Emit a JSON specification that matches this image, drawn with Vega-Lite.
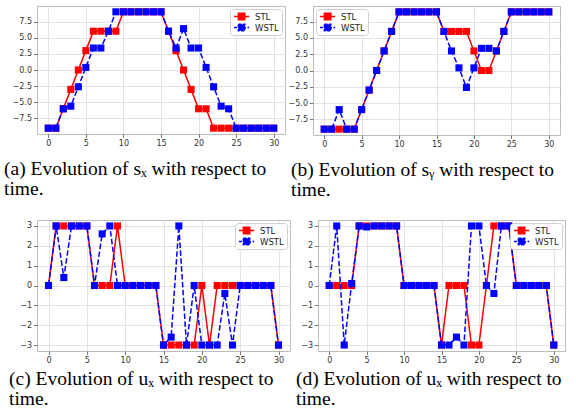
{
  "$schema": "https://vega.github.io/schema/vega-lite/v6.json",
  "padding": {"left": 3, "top": 5, "right": 0, "bottom": 0},
  "background": "white",
  "config": {
    "font": "DejaVu Sans",
    "view": {"stroke": "#bdbdbd", "strokeWidth": 1},
    "axis": {"grid": true, "gridColor": "#dcdcdc", "gridWidth": 0.8, "domain": false, "ticks": true, "tickColor": "#555", "tickSize": 3.5, "tickWidth": 0.8, "labelFont": "DejaVu Sans", "labelFontSize": 8, "labelColor": "#333", "labelPadding": 2, "title": null},
    "legend": {"title": null, "symbolType": "M-1,0H2.8M0.1,-0.8H1.7V0.8H0.1Z", "symbolSize": 64, "symbolStrokeWidth": 1.5, "labelFont": "DejaVu Sans", "labelFontSize": 8.5, "labelColor": "#222", "labelOffset": 12, "fillColor": "white", "strokeColor": "#d0d0d0", "cornerRadius": 3, "padding": 3, "rowPadding": 2, "clipHeight": 9, "offset": 3},
    "title": {"font": "Liberation Serif", "fontSize": 19.5, "fontWeight": "normal", "color": "#000", "lineHeight": 20, "orient": "bottom", "anchor": "start", "frame": "group", "offset": 12}
  },
  "datasets": {
    "a": [{"t":0,"STL":-9,"WSTL":-9},{"t":1,"STL":-9,"WSTL":-9},{"t":2,"STL":-6,"WSTL":-6},{"t":3,"STL":-3,"WSTL":-5.6},{"t":4,"STL":0,"WSTL":-2.6},{"t":5,"STL":3,"WSTL":0.4},{"t":6,"STL":6,"WSTL":3.4},{"t":7,"STL":6,"WSTL":3.4},{"t":8,"STL":6,"WSTL":6},{"t":9,"STL":6,"WSTL":9},{"t":10,"STL":9,"WSTL":9},{"t":11,"STL":9,"WSTL":9},{"t":12,"STL":9,"WSTL":9},{"t":13,"STL":9,"WSTL":9},{"t":14,"STL":9,"WSTL":9},{"t":15,"STL":9,"WSTL":9},{"t":16,"STL":6,"WSTL":6},{"t":17,"STL":3,"WSTL":3.4},{"t":18,"STL":0,"WSTL":6.4},{"t":19,"STL":-3,"WSTL":3.4},{"t":20,"STL":-6,"WSTL":3.4},{"t":21,"STL":-6,"WSTL":0.4},{"t":22,"STL":-9,"WSTL":-2.6},{"t":23,"STL":-9,"WSTL":-5.6},{"t":24,"STL":-9,"WSTL":-6},{"t":25,"STL":-9,"WSTL":-9},{"t":26,"STL":-9,"WSTL":-9},{"t":27,"STL":-9,"WSTL":-9},{"t":28,"STL":-9,"WSTL":-9},{"t":29,"STL":-9,"WSTL":-9},{"t":30,"STL":-9,"WSTL":-9}],
    "b": [{"t":0,"STL":-9,"WSTL":-9},{"t":1,"STL":-9,"WSTL":-9},{"t":2,"STL":-9,"WSTL":-6},{"t":3,"STL":-9,"WSTL":-9},{"t":4,"STL":-9,"WSTL":-9},{"t":5,"STL":-6,"WSTL":-6},{"t":6,"STL":-3,"WSTL":-3},{"t":7,"STL":0,"WSTL":0},{"t":8,"STL":3,"WSTL":3},{"t":9,"STL":6,"WSTL":6},{"t":10,"STL":9,"WSTL":9},{"t":11,"STL":9,"WSTL":9},{"t":12,"STL":9,"WSTL":9},{"t":13,"STL":9,"WSTL":9},{"t":14,"STL":9,"WSTL":9},{"t":15,"STL":9,"WSTL":9},{"t":16,"STL":6,"WSTL":6},{"t":17,"STL":6,"WSTL":3},{"t":18,"STL":6,"WSTL":0.4},{"t":19,"STL":6,"WSTL":-2.6},{"t":20,"STL":3,"WSTL":0.4},{"t":21,"STL":0,"WSTL":3.4},{"t":22,"STL":0,"WSTL":3.4},{"t":23,"STL":3,"WSTL":3},{"t":24,"STL":6,"WSTL":6},{"t":25,"STL":9,"WSTL":9},{"t":26,"STL":9,"WSTL":9},{"t":27,"STL":9,"WSTL":9},{"t":28,"STL":9,"WSTL":9},{"t":29,"STL":9,"WSTL":9},{"t":30,"STL":9,"WSTL":9}],
    "c": [{"t":0,"STL":0,"WSTL":0},{"t":1,"STL":3,"WSTL":3},{"t":2,"STL":3,"WSTL":0.4},{"t":3,"STL":3,"WSTL":3},{"t":4,"STL":3,"WSTL":3},{"t":5,"STL":3,"WSTL":3},{"t":6,"STL":0,"WSTL":0},{"t":7,"STL":0,"WSTL":2.6},{"t":8,"STL":0,"WSTL":3},{"t":9,"STL":3,"WSTL":0},{"t":10,"STL":0,"WSTL":0},{"t":11,"STL":0,"WSTL":0},{"t":12,"STL":0,"WSTL":0},{"t":13,"STL":0,"WSTL":0},{"t":14,"STL":0,"WSTL":0},{"t":15,"STL":-3,"WSTL":-3},{"t":16,"STL":-3,"WSTL":-2.6},{"t":17,"STL":-3,"WSTL":3},{"t":18,"STL":-3,"WSTL":-3},{"t":19,"STL":-3,"WSTL":0},{"t":20,"STL":0,"WSTL":-3},{"t":21,"STL":-3,"WSTL":-3},{"t":22,"STL":0,"WSTL":-3},{"t":23,"STL":0,"WSTL":-0.4},{"t":24,"STL":0,"WSTL":-3},{"t":25,"STL":0,"WSTL":0},{"t":26,"STL":0,"WSTL":0},{"t":27,"STL":0,"WSTL":0},{"t":28,"STL":0,"WSTL":0},{"t":29,"STL":0,"WSTL":0},{"t":30,"STL":-3,"WSTL":-3}],
    "d": [{"t":0,"STL":0,"WSTL":0},{"t":1,"STL":0,"WSTL":3},{"t":2,"STL":0,"WSTL":-3},{"t":3,"STL":0,"WSTL":0.1},{"t":4,"STL":3,"WSTL":3},{"t":5,"STL":3,"WSTL":2.95},{"t":6,"STL":3,"WSTL":3},{"t":7,"STL":3,"WSTL":3},{"t":8,"STL":3,"WSTL":3},{"t":9,"STL":3,"WSTL":3},{"t":10,"STL":0,"WSTL":0},{"t":11,"STL":0,"WSTL":0},{"t":12,"STL":0,"WSTL":0},{"t":13,"STL":0,"WSTL":0},{"t":14,"STL":0,"WSTL":0},{"t":15,"STL":-3,"WSTL":-3},{"t":16,"STL":0,"WSTL":-3},{"t":17,"STL":0,"WSTL":-2.6},{"t":18,"STL":0,"WSTL":-3},{"t":19,"STL":-3,"WSTL":3},{"t":20,"STL":-3,"WSTL":3},{"t":21,"STL":0,"WSTL":0},{"t":22,"STL":3,"WSTL":-0.4},{"t":23,"STL":3,"WSTL":3},{"t":24,"STL":3,"WSTL":3},{"t":25,"STL":0,"WSTL":0},{"t":26,"STL":0,"WSTL":0},{"t":27,"STL":0,"WSTL":0},{"t":28,"STL":0,"WSTL":0},{"t":29,"STL":0,"WSTL":0},{"t":30,"STL":-3,"WSTL":-3}]
  },
  "spacing": 19,
  "resolve": {"scale": {"color": "independent"}, "legend": {"color": "independent"}},
  "vconcat": [
    {
      "hconcat": [
        {
          "width": 248, "height": 128,
          "data": {"name": "a"},
          "transform": [{"fold": ["STL", "WSTL"], "as": ["series", "v"]}],
          "title": {"text": ["(a) Evolution of sₓ with respect to", "time."], "dx": -33},
          "encoding": {
            "x": {"field": "t", "type": "quantitative", "scale": {"domain": [-1.5, 31.5], "nice": false, "zero": false}, "axis": {"values": [0, 5, 10, 15, 20, 25, 30]}},
            "y": {"field": "v", "type": "quantitative", "scale": {"domain": [-9.9, 9.9], "nice": false, "zero": false}, "axis": {"values": [-7.5, -5, -2.5, 0, 2.5, 5, 7.5], "format": ".1f"}},
            "color": {"field": "series", "type": "nominal", "scale": {"domain": ["STL", "WSTL"], "range": ["#ff0000", "#0000ff"]}, "legend": {"orient": "top-right", "encode": {"symbols": {"update": {"size": {"value": 64}, "fill": {"signal": "datum.value === 'STL' ? '#ff0000' : '#0000ff'"}, "stroke": {"signal": "datum.value === 'STL' ? '#ff0000' : '#0000ff'"}, "strokeDash": {"signal": "datum.value === 'STL' ? [1,0] : [3,1.5]"}}}}}}
          },
          "layer": [
            {"transform": [{"filter": "datum.series === 'STL'"}], "mark": {"type": "line", "strokeWidth": 1.5}},
            {"transform": [{"filter": "datum.series === 'STL'"}], "mark": {"type": "square", "size": 50, "opacity": 1}},
            {"transform": [{"filter": "datum.series === 'WSTL'"}], "mark": {"type": "line", "strokeWidth": 1.5, "strokeDash": [5.5, 2.4]}},
            {"transform": [{"filter": "datum.series === 'WSTL'"}], "mark": {"type": "square", "size": 50, "opacity": 1}}
          ]
        },
        {
          "width": 247, "height": 129,
          "data": {"name": "b"},
          "transform": [{"fold": ["STL", "WSTL"], "as": ["series", "v"]}],
          "title": {"text": ["(b) Evolution of sᵧ with respect to", "time."], "dx": -22},
          "encoding": {
            "x": {"field": "t", "type": "quantitative", "scale": {"domain": [-1.5, 31.5], "nice": false, "zero": false}, "axis": {"values": [0, 5, 10, 15, 20, 25, 30]}},
            "y": {"field": "v", "type": "quantitative", "scale": {"domain": [-9.9, 9.9], "nice": false, "zero": false}, "axis": {"values": [-7.5, -5, -2.5, 0, 2.5, 5, 7.5], "format": ".1f"}},
            "color": {"field": "series", "type": "nominal", "scale": {"domain": ["STL", "WSTL"], "range": ["#ff0000", "#0000ff"]}, "legend": {"orient": "top-left", "encode": {"symbols": {"update": {"size": {"value": 64}, "fill": {"signal": "datum.value === 'STL' ? '#ff0000' : '#0000ff'"}, "stroke": {"signal": "datum.value === 'STL' ? '#ff0000' : '#0000ff'"}, "strokeDash": {"signal": "datum.value === 'STL' ? [1,0] : [3,1.5]"}}}}}}
          },
          "layer": [
            {"transform": [{"filter": "datum.series === 'STL'"}], "mark": {"type": "line", "strokeWidth": 1.5}},
            {"transform": [{"filter": "datum.series === 'STL'"}], "mark": {"type": "square", "size": 50, "opacity": 1}},
            {"transform": [{"filter": "datum.series === 'WSTL'"}], "mark": {"type": "line", "strokeWidth": 1.5, "strokeDash": [5.5, 2.4]}},
            {"transform": [{"filter": "datum.series === 'WSTL'"}], "mark": {"type": "square", "size": 50, "opacity": 1}}
          ]
        }
      ],
      "spacing": 28,
      "bounds": "flush",
      "resolve": {"scale": {"color": "independent"}, "legend": {"color": "independent"}}
    },
    {
      "hconcat": [
        {
          "width": 253, "height": 131,
          "data": {"name": "c"},
          "transform": [{"fold": ["STL", "WSTL"], "as": ["series", "v"]}],
          "title": {"text": ["(c) Evolution of uₓ with respect to", "time."], "dx": -28, "offset": 5},
          "encoding": {
            "x": {"field": "t", "type": "quantitative", "scale": {"domain": [-1.5, 31.5], "nice": false, "zero": false}, "axis": {"values": [0, 5, 10, 15, 20, 25, 30]}},
            "y": {"field": "v", "type": "quantitative", "scale": {"domain": [-3.3, 3.3], "nice": false, "zero": false}, "axis": {"values": [-3, -2, -1, 0, 1, 2, 3], "format": "d"}},
            "color": {"field": "series", "type": "nominal", "scale": {"domain": ["STL", "WSTL"], "range": ["#ff0000", "#0000ff"]}, "legend": {"orient": "top-right", "encode": {"symbols": {"update": {"size": {"value": 64}, "fill": {"signal": "datum.value === 'STL' ? '#ff0000' : '#0000ff'"}, "stroke": {"signal": "datum.value === 'STL' ? '#ff0000' : '#0000ff'"}, "strokeDash": {"signal": "datum.value === 'STL' ? [1,0] : [3,1.5]"}}}}}}
          },
          "layer": [
            {"transform": [{"filter": "datum.series === 'STL'"}], "mark": {"type": "line", "strokeWidth": 1.5}},
            {"transform": [{"filter": "datum.series === 'STL'"}], "mark": {"type": "square", "size": 50, "opacity": 1}},
            {"transform": [{"filter": "datum.series === 'WSTL'"}], "mark": {"type": "line", "strokeWidth": 1.5, "strokeDash": [5.5, 2.4]}},
            {"transform": [{"filter": "datum.series === 'WSTL'"}], "mark": {"type": "square", "size": 50, "opacity": 1}}
          ]
        },
        {
          "width": 247, "height": 131,
          "data": {"name": "d"},
          "transform": [{"fold": ["STL", "WSTL"], "as": ["series", "v"]}],
          "title": {"text": ["(d) Evolution of uₓ with respect to", "time."], "dx": -22, "offset": 5},
          "encoding": {
            "x": {"field": "t", "type": "quantitative", "scale": {"domain": [-1.5, 31.5], "nice": false, "zero": false}, "axis": {"values": [0, 5, 10, 15, 20, 25, 30]}},
            "y": {"field": "v", "type": "quantitative", "scale": {"domain": [-3.3, 3.3], "nice": false, "zero": false}, "axis": {"values": [-3, -2, -1, 0, 1, 2, 3], "format": "d"}},
            "color": {"field": "series", "type": "nominal", "scale": {"domain": ["STL", "WSTL"], "range": ["#ff0000", "#0000ff"]}, "legend": {"orient": "top-right", "encode": {"symbols": {"update": {"size": {"value": 64}, "fill": {"signal": "datum.value === 'STL' ? '#ff0000' : '#0000ff'"}, "stroke": {"signal": "datum.value === 'STL' ? '#ff0000' : '#0000ff'"}, "strokeDash": {"signal": "datum.value === 'STL' ? [1,0] : [3,1.5]"}}}}}}
          },
          "layer": [
            {"transform": [{"filter": "datum.series === 'STL'"}], "mark": {"type": "line", "strokeWidth": 1.5}},
            {"transform": [{"filter": "datum.series === 'STL'"}], "mark": {"type": "square", "size": 50, "opacity": 1}},
            {"transform": [{"filter": "datum.series === 'WSTL'"}], "mark": {"type": "line", "strokeWidth": 1.5, "strokeDash": [5.5, 2.4]}},
            {"transform": [{"filter": "datum.series === 'WSTL'"}], "mark": {"type": "square", "size": 50, "opacity": 1}}
          ]
        }
      ],
      "spacing": 28,
      "bounds": "flush",
      "resolve": {"scale": {"color": "independent"}, "legend": {"color": "independent"}}
    }
  ]
}
